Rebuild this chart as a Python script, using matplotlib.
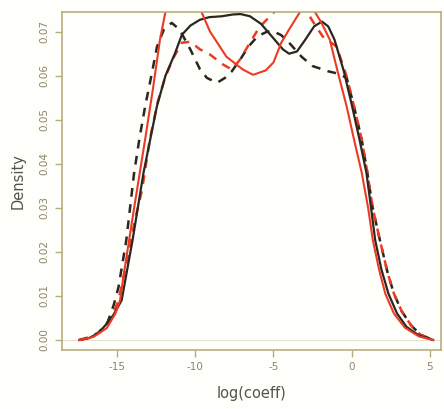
import matplotlib
matplotlib.use("Agg")
import matplotlib.pyplot as plt

# density curves (x = log(coeff), y = density)
black_solid_x = [-17.4, -16.8, -16.2, -15.7, -15.2, -14.7, -14.0, -13.3, -12.45, -11.9,
                 -11.3, -10.85, -10.3, -9.7, -9.1, -8.3, -7.6, -7.1, -6.5, -5.8,
                 -5.0, -4.4, -4.0, -3.5, -3.0, -2.4, -1.9, -1.5, -1.1, -0.5,
                 0.0, 0.5, 0.94, 1.2, 1.5, 1.9, 2.35, 2.9, 3.5, 4.3,
                 5.2]
black_solid_y = [0.0, 0.0004, 0.0015, 0.0035, 0.0058, 0.009, 0.0227, 0.038, 0.053, 0.060,
                 0.065, 0.0693, 0.0714, 0.0727, 0.0733, 0.0735, 0.0739, 0.0740, 0.0735, 0.0718,
                 0.0685, 0.0660, 0.0650, 0.0655, 0.0680, 0.0712, 0.0723, 0.0712, 0.0682, 0.061,
                 0.0535, 0.0455, 0.038, 0.031, 0.0227, 0.016, 0.0105, 0.006, 0.003, 0.001,
                 0.0]

black_dash_x = [-17.4, -16.8, -16.2, -15.6, -15.2, -14.9, -14.4, -13.9, -13.55, -13.2,
                -12.8, -12.44, -12.0, -11.5, -11.0, -10.3, -9.7, -9.25, -8.6, -8.1,
                -7.66, -7.1, -6.6, -6.0, -5.4, -5.0, -4.5, -4.0, -3.2, -2.5,
                -1.5, -0.9, -0.32, 0.15, 0.64, 1.0, 1.34, 1.8, 2.3, 2.7,
                3.2, 3.8, 4.4, 5.2]
black_dash_y = [0.0, 0.0006, 0.0016, 0.004, 0.008, 0.012, 0.0227, 0.038, 0.046, 0.053,
                0.060, 0.0666, 0.0705, 0.072, 0.0705, 0.0659, 0.0615, 0.0595, 0.0584, 0.0595,
                0.061, 0.0638, 0.0666, 0.069, 0.070, 0.0701, 0.0692, 0.0675, 0.0643, 0.0622,
                0.061, 0.0605, 0.0595, 0.053, 0.0455, 0.038, 0.030, 0.0227, 0.0152, 0.0105,
                0.0065, 0.0033, 0.0012, 0.0]

red_solid_x = [-17.4, -16.5, -15.65, -15.1, -14.8, -14.55, -13.9, -13.2, -12.7, -12.25,
               -11.9, -11.4, -10.7, -10.0, -9.6, -9.05, -8.0, -6.95, -6.3, -5.5,
               -5.0, -4.5, -4.0, -3.3, -2.85, -2.35, -1.9, -1.4, -0.9, -0.32,
               0.15, 0.64, 1.05, 1.35, 1.75, 2.15, 2.7, 3.4, 4.3, 5.2]
red_solid_y = [0.0, 0.0007, 0.0027, 0.006, 0.009, 0.0152, 0.030, 0.0455, 0.057, 0.0682,
               0.0745, 0.079, 0.080, 0.078, 0.0745, 0.070, 0.0643, 0.0614, 0.0602, 0.0612,
               0.063, 0.0675, 0.0705, 0.0745, 0.076, 0.0745, 0.0718, 0.0682, 0.061, 0.053,
               0.0455, 0.038, 0.030, 0.0227, 0.016, 0.0105, 0.006, 0.0028, 0.0008, 0.0]

red_dash_x = [-17.4, -16.6, -16.0, -15.4, -14.9, -14.3, -13.8, -13.4, -12.9, -12.4,
              -11.9, -11.4, -10.85, -10.3, -9.7, -9.05, -8.2, -7.65, -7.15, -6.5,
              -5.9, -5.0, -4.3, -3.6, -3.0, -2.55, -1.85, -0.96, -0.32, 0.15,
              0.64, 1.0, 1.34, 1.8, 2.3, 2.7, 3.2, 3.8, 4.4, 5.2]
red_dash_y = [0.0, 0.0006, 0.002, 0.0045, 0.009, 0.019, 0.028, 0.034, 0.0455, 0.054,
              0.0598, 0.064, 0.0675, 0.0677, 0.066, 0.0648, 0.0625, 0.0614, 0.0636, 0.0675,
              0.071, 0.0743, 0.0765, 0.077, 0.0755, 0.0727, 0.0689, 0.0666, 0.0598, 0.053,
              0.0455, 0.038, 0.030, 0.0227, 0.0152, 0.0105, 0.0065, 0.0033, 0.0012, 0.0]

x_ticks = [-15, -10, -5, 0, 5]
y_ticks = [0.00, 0.01, 0.02, 0.03, 0.04, 0.05, 0.06, 0.07]

frame_col = "#b9ad80"
text_col = "#8c8468"
black = "#2b2620"
red = "#ec3a24"

fig = plt.figure(figsize=(4.44, 4.09), dpi=100, facecolor="#fefefb")
ax = fig.add_axes([0.14, 0.144, 0.853, 0.827], facecolor="#fefefb")

ax.axhline(0, color="#e6e2d2", lw=0.8, zorder=0)
ax.plot(black_dash_x, black_dash_y, color=black, lw=1.8, dashes=(3.5, 3.0))
ax.plot(red_dash_x, red_dash_y, color=red, lw=1.8, dashes=(3.5, 3.0))
ax.plot(black_solid_x, black_solid_y, color=black, lw=1.6)
ax.plot(red_solid_x, red_solid_y, color=red, lw=1.5)

ax.set_xlim(-18.5, 5.7)
ax.set_ylim(-0.0023, 0.0745)

ax.set_xticks(x_ticks)
ax.set_xticklabels([str(t) for t in x_ticks])
ax.set_yticks(y_ticks)
ax.set_yticklabels(["%.2f" % t for t in y_ticks], rotation=90, va="center")

ax.tick_params(axis="both", direction="out", length=5, width=1, color=frame_col,
               labelcolor=text_col, labelsize=7.5)
ax.tick_params(axis="y", pad=4)
for s in ax.spines.values():
    s.set_color(frame_col)
    s.set_linewidth(1.2)

ax.set_xlabel("log(coeff)", color="#55524a", fontsize=10.5, labelpad=10)
ax.set_ylabel("Density", color="#55524a", fontsize=10.5, labelpad=10)

fig.savefig("out.png", dpi=100, facecolor=fig.get_facecolor())
